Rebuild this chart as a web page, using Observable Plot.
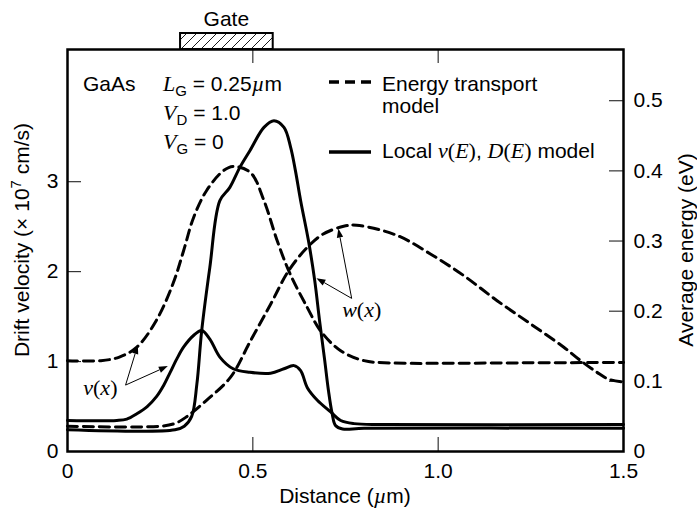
<!DOCTYPE html>
<html>
<head>
<meta charset="utf-8">
<script src="https://cdn.jsdelivr.net/npm/d3@7"></script>
<script src="https://cdn.jsdelivr.net/npm/@observablehq/plot@0.6"></script>
<style>
  body { margin: 0; background: #fff; }
</style>
</head>
<body>
<div id="chart"></div>
<script>
// Distance along the channel in µm; velocity in 1e7 cm/s; energy in eV.

// Energy transport model: drift velocity
const etVelocityX = [0, 0.09, 0.14, 0.187, 0.24, 0.285, 0.313, 0.34, 0.375, 0.42, 0.447, 0.494, 0.53, 0.566, 0.60, 0.647, 0.683, 0.737, 0.80, 0.87, 1.0, 1.2, 1.5];
const etVelocity  = [1.01, 1.01, 1.05, 1.16, 1.46, 1.87, 2.23, 2.60, 2.90, 3.12, 3.17, 3.10, 2.79, 2.34, 1.98, 1.60, 1.34, 1.12, 1.01, 0.985, 0.98, 0.985, 0.99];

// Energy transport model: average energy
const etEnergyX = [0, 0.25, 0.29, 0.32, 0.375, 0.44, 0.494, 0.548, 0.597, 0.647, 0.69, 0.745, 0.78, 0.889, 0.979, 1.069, 1.159, 1.249, 1.339, 1.384, 1.428, 1.46, 1.5];
const etEnergy  = [0.036, 0.036, 0.040, 0.049, 0.073, 0.106, 0.158, 0.21, 0.258, 0.291, 0.31, 0.321, 0.3225, 0.308, 0.2816, 0.2507, 0.215, 0.182, 0.1486, 0.1296, 0.113, 0.103, 0.099];

// Local v(E), D(E) model: drift velocity
const localVelocityX = [0, 0.133, 0.16, 0.187, 0.215, 0.24, 0.26, 0.277, 0.295, 0.313, 0.34, 0.362, 0.384, 0.411, 0.447, 0.492, 0.548, 0.584, 0.611, 0.629, 0.647, 0.674, 0.71, 0.737, 0.773, 0.85, 1.5];
const localVelocity  = [0.345, 0.345, 0.36, 0.42, 0.50, 0.61, 0.74, 0.88, 1.03, 1.16, 1.29, 1.345, 1.25, 1.05, 0.92, 0.88, 0.87, 0.92, 0.955, 0.90, 0.71, 0.57, 0.44, 0.345, 0.31, 0.30, 0.30];

// Local v(E), D(E) model: average energy
const localEnergyX = [0, 0.29, 0.315, 0.335, 0.349, 0.362, 0.384, 0.411, 0.438, 0.465, 0.492, 0.53, 0.557, 0.584, 0.602, 0.615, 0.629, 0.650, 0.667, 0.680, 0.694, 0.704, 0.714, 0.723, 0.742, 0.8, 1.5];
const localEnergy  = [0.031, 0.031, 0.036, 0.050, 0.096, 0.172, 0.2625, 0.3575, 0.3765, 0.405, 0.4288, 0.462, 0.4715, 0.462, 0.4335, 0.40, 0.3575, 0.3006, 0.2436, 0.1866, 0.1296, 0.0869, 0.054, 0.037, 0.032, 0.033, 0.033];

// Axis ticks
const distanceTicks = [0, 0.5, 1.0, 1.5];
const velocityTicks = [0, 1, 2, 3];
const energyTicks = [0, 0.1, 0.2, 0.3, 0.4, 0.5];

// Gate electrode (µm)
const gateStart = 0.305;
const gateLength = 0.25;

// Top of the two vertical axes; the energy axis shares the velocity scale
const velocityTop = 4.47;
const energyTop = 0.573;
const K = velocityTop / energyTop;

// Curve labels and their pointers (x in µm, y in velocity units)
const curveLabels = [
  {name: "v", x: 0.09, y: 0.62},
  {name: "w", x: 0.795, y: 1.49}
];
const pointers = [
  {x1: 0.158, y1: 0.733, x2: 0.191, y2: 1.178},
  {x1: 0.158, y1: 0.733, x2: 0.272, y2: 0.944},
  {x1: 0.768, y1: 1.697, x2: 0.732, y2: 2.474},
  {x1: 0.768, y1: 1.697, x2: 0.673, y2: 1.922}
];

const rows = (xs, ys, f = (v) => v) => xs.map((x, i) => ({x, y: f(ys[i])}));
const etVelocityRows = rows(etVelocityX, etVelocity);
const etEnergyRows = rows(etEnergyX, etEnergy, (e) => e * K);
const localVelocityRows = rows(localVelocityX, localVelocity);
const localEnergyRows = rows(localEnergyX, localEnergy, (e) => e * K);

const SANS = "'Liberation Sans', Arial, Helvetica, sans-serif";
const SERIF = "'Liberation Serif', 'Times New Roman', serif";
const W = 697, H = 512;
const M = {top: 49, right: 74, bottom: 61, left: 67};
const plotW = W - M.left - M.right;
const plotH = H - M.top - M.bottom;
const TICK = 14;
const DASH = "10,6";

// Text made of upright sans, italic serif (math) and subscript pieces
function richText(parent, px, py, parts, anchor = "start") {
  const t = parent.append("text")
    .attr("x", px).attr("y", py)
    .attr("text-anchor", anchor)
    .attr("font-family", SANS).attr("font-size", 21);
  let shift = 0;
  for (const p of parts) {
    const s = t.append("tspan").text(p.t);
    const target = p.sub ? 5 : p.sup ? -8 : 0;
    if (target !== shift) { s.attr("dy", target - shift); shift = target; }
    if (p.math) s.attr("font-family", SERIF).attr("font-style", "italic").attr("font-size", 22);
    else if (p.serif) s.attr("font-family", SERIF).attr("font-size", 22);
    if (p.sub || p.sup) s.attr("font-size", 15);
  }
  return t;
}

function decorations(index, scales, values, dims) {
  const {x, y} = scales;
  const fl = dims.marginLeft, ft = dims.marginTop;
  const fr = dims.width - dims.marginRight, fb = dims.height - dims.marginBottom;
  const g = d3.create("svg:g");

  // Gate electrode with hatching
  const pat = g.append("defs").append("pattern")
    .attr("id", "gate-hatch").attr("patternUnits", "userSpaceOnUse")
    .attr("width", 10).attr("height", 10);
  pat.append("path").attr("d", "M-1,11L11,-1M-6,6L6,-6M4,16L16,4")
    .attr("stroke", "black").attr("stroke-width", 0.9);
  const gx0 = x(gateStart), gx1 = x(gateStart + gateLength);
  g.append("rect").attr("x", gx0).attr("y", ft - 16)
    .attr("width", gx1 - gx0).attr("height", 16)
    .attr("fill", "url(#gate-hatch)").attr("stroke", "black").attr("stroke-width", 2);
  richText(g, (gx0 + gx1) / 2, ft - 23, [{t: "Gate"}], "middle");

  // Device conditions
  richText(g, fl + 16, ft + 42, [{t: "GaAs"}]);
  richText(g, fl + 96, ft + 42, [{t: "L", math: true}, {t: "G", sub: true}, {t: " = 0.25"}, {t: "µ", math: true}, {t: "m"}]);
  richText(g, fl + 96, ft + 71, [{t: "V", math: true}, {t: "D", sub: true}, {t: " = 1.0"}]);
  richText(g, fl + 96, ft + 100, [{t: "V", math: true}, {t: "G", sub: true}, {t: " = 0"}]);

  // Legend
  g.append("line").attr("x1", fl + 262).attr("x2", fl + 304)
    .attr("y1", ft + 33).attr("y2", ft + 33)
    .attr("stroke", "black").attr("stroke-width", 3.5).attr("stroke-dasharray", DASH);
  richText(g, fl + 315, ft + 42, [{t: "Energy transport"}]);
  richText(g, fl + 315, ft + 64, [{t: "model"}]);
  g.append("line").attr("x1", fl + 262).attr("x2", fl + 304)
    .attr("y1", ft + 103).attr("y2", ft + 103)
    .attr("stroke", "black").attr("stroke-width", 3.5);
  richText(g, fl + 315, ft + 109, [
    {t: "Local "}, {t: "v", math: true}, {t: "(", serif: true}, {t: "E", math: true}, {t: ")", serif: true},
    {t: ", "}, {t: "D", math: true}, {t: "(", serif: true}, {t: "E", math: true}, {t: ")", serif: true},
    {t: " model"}
  ]);

  // Pointers with filled heads
  for (const p of pointers) {
    const ax = x(p.x1), ay = y(p.y1), bx = x(p.x2), by = y(p.y2);
    const len = Math.hypot(bx - ax, by - ay);
    const ux = (bx - ax) / len, uy = (by - ay) / len;
    const hl = 9, hw = 3.2;
    const cx = bx - ux * hl, cy = by - uy * hl;
    g.append("line").attr("x1", ax).attr("y1", ay).attr("x2", cx).attr("y2", cy)
      .attr("stroke", "black").attr("stroke-width", 1);
    g.append("path")
      .attr("d", `M${bx},${by}L${cx - uy * hw},${cy + ux * hw}L${cx + uy * hw},${cy - ux * hw}Z`)
      .attr("fill", "black");
  }
  for (const c of curveLabels) {
    richText(g, x(c.x), y(c.y), [
      {t: c.name, math: true}, {t: "(", serif: true}, {t: "x", math: true}, {t: ")", serif: true}
    ], "middle");
  }

  // Axis titles
  richText(g, (fl + fr) / 2, 503, [{t: "Distance ("}, {t: "µ", math: true}, {t: "m)"}], "middle");
  richText(g, 29, 240, [{t: "Drift velocity (× 10"}, {t: "7", sup: true}, {t: " cm/s)"}], "middle")
    .attr("transform", "rotate(-90, 29, 240)");
  richText(g, 693, 250, [{t: "Average energy (eV)"}], "middle")
    .attr("transform", "rotate(-90, 693, 250)");
  return g.node();
}

const tickStyle = {stroke: "#222", strokeWidth: 1.1};
const lineStyle = {curve: "catmull-rom", stroke: "black", strokeWidth: 3};

const chart = Plot.plot({
  width: W,
  height: H,
  marginTop: M.top,
  marginRight: M.right,
  marginBottom: M.bottom,
  marginLeft: M.left,
  style: {fontFamily: SANS, fontSize: "21px", color: "black", background: "white", overflow: "visible"},
  x: {domain: [0, 1.5]},
  y: {domain: [0, velocityTop]},
  marks: [
    // inward ticks on all four sides
    Plot.tickY(velocityTicks.slice(1), {y: (d) => d, insetRight: plotW - TICK, ...tickStyle}),
    Plot.tickY(energyTicks.slice(1), {y: (d) => d * K, insetLeft: plotW - TICK, ...tickStyle}),
    Plot.tickX(distanceTicks.slice(1, -1), {x: (d) => d, insetTop: plotH - TICK, ...tickStyle}),
    Plot.tickX(distanceTicks.slice(1, -1), {x: (d) => d, insetBottom: plotH - TICK, ...tickStyle}),
    Plot.axisY(velocityTicks, {anchor: "left", tickSize: 0, tickPadding: 9, label: null, tickFormat: (d) => String(d)}),
    Plot.axisY(energyTicks.map((e) => e * K), {
      anchor: "right", tickSize: 0, tickPadding: 10, label: null,
      tickFormat: (d) => { const e = Math.round(d / K * 10) / 10; return e === 0 ? "0" : e.toFixed(1); }
    }),
    Plot.axisX(distanceTicks, {
      anchor: "bottom", tickSize: 0, tickPadding: 12, label: null,
      tickFormat: (d) => d === 0 ? "0" : d.toFixed(1)
    }),
    // curves
    Plot.line(etVelocityRows, {x: "x", y: "y", ...lineStyle, strokeDasharray: DASH}),
    Plot.line(etEnergyRows, {x: "x", y: "y", ...lineStyle, strokeDasharray: DASH}),
    Plot.line(localVelocityRows, {x: "x", y: "y", ...lineStyle}),
    Plot.line(localEnergyRows, {x: "x", y: "y", ...lineStyle}),
    Plot.frame({stroke: "black", strokeWidth: 2.5}),
    decorations
  ]
});

document.getElementById("chart").append(chart);
</script>
</body>
</html>
